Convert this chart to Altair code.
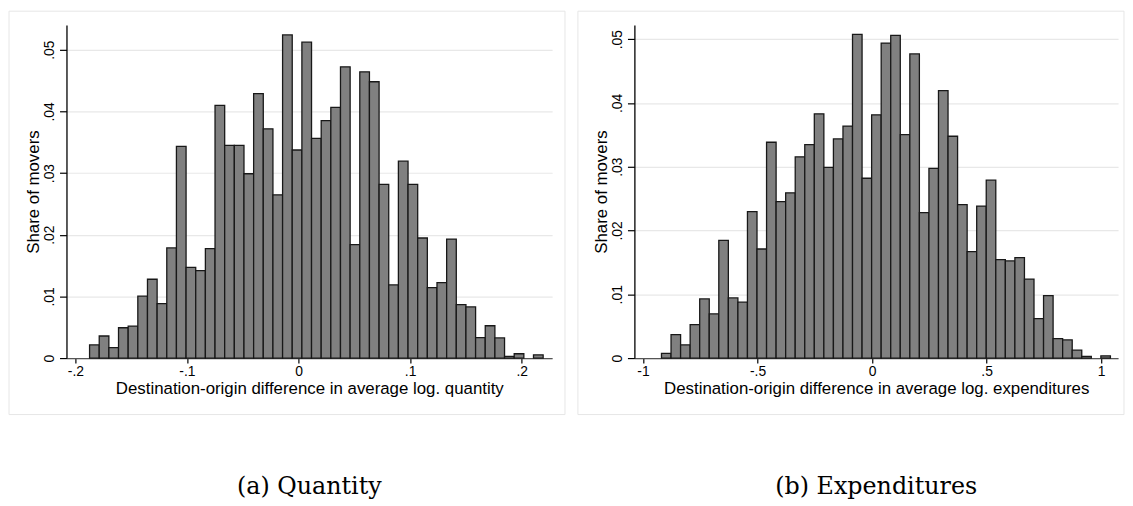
import numpy as np
import pandas as pd
import altair as alt

# (a) destination-origin difference in average log. quantity, 47 bins
qty_start = -0.1873
qty_width = 0.00865
qty_share = [0.00214, 0.00358, 0.00171, 0.00492, 0.00519, 0.01005, 0.01278, 0.00882,
             0.01786, 0.03433, 0.01471, 0.01417, 0.01775, 0.04096, 0.03449, 0.03449,
             0.02989, 0.04289, 0.03717, 0.02647, 0.05240, 0.03374, 0.05123, 0.03561,
             0.03850, 0.04064, 0.04722, 0.01840, 0.04642, 0.04481, 0.02818, 0.01187,
             0.03193, 0.02818, 0.01947, 0.01144, 0.01225, 0.01930, 0.00866, 0.00829,
             0.00332, 0.00524, 0.00326, 0.00027, 0.00070, 0.0, 0.00053]
qty_ticks = [-0.2, -0.1, 0, 0.1, 0.2]

# (b) destination-origin difference in average log. expenditures, 47 bins
exp_start = -0.9193
exp_width = 0.0417
exp_share = [0.00073, 0.00368, 0.00207, 0.00523, 0.00927, 0.00694, 0.01845, 0.00943,
             0.00876, 0.02295, 0.01710, 0.03383, 0.02451, 0.02591, 0.03155, 0.03347,
             0.03829, 0.02990, 0.03435, 0.03637, 0.05073, 0.02819, 0.03813, 0.04938,
             0.05057, 0.03503, 0.04767, 0.02280, 0.02974, 0.04192, 0.03477, 0.02404,
             0.01668, 0.02383, 0.02788, 0.01544, 0.01523, 0.01575, 0.01238, 0.00617,
             0.00979, 0.00306, 0.00285, 0.00124, 0.00026, 0.0, 0.00036]
exp_ticks = [-1, -0.5, 0, 0.5, 1]

y_ticks = [0, 0.01, 0.02, 0.03, 0.04, 0.05]

# stata-style labels: ".05", "-.1", "0" (plain hyphen instead of d3's minus sign)
stata_fmt = ("datum.value == 0 ? '0' : "
             "replace(replace(format(datum.value, '.2~f'), '0.', '.'), '\u2212', '-')")

PLOT_H = 336


def hist_panel(start, width, share, x_domain, x_ticks, y_max, x_title, caption, plot_w, frame_x):
    lo = start + width * np.arange(len(share))
    df = pd.DataFrame({'lo': lo, 'hi': lo + width, 'share': share})

    # light gray graph-region border, drawn around axes and titles
    frame = alt.Chart(pd.DataFrame({'frame': [0]})).mark_rect(
        fillOpacity=0, stroke='#e6e6e6', strokeWidth=1
    ).encode(
        x=alt.value(frame_x[0]), x2=alt.value(frame_x[1]),
        y=alt.value(-14), y2=alt.value(393)
    )

    bars = alt.Chart(df).mark_rect(
        color='#808080', stroke='#181818', strokeWidth=1.3
    ).encode(
        x=alt.X('lo:Q', scale=alt.Scale(domain=x_domain, nice=False, zero=False),
                axis=alt.Axis(values=x_ticks, labelExpr=stata_fmt, title=x_title,
                              grid=False, tickSize=5, labelPadding=2, labelFlush=False,
                              domainColor='#555555', domainWidth=1.2,
                              titleY=31, titleBaseline='middle')),
        x2='hi:Q',
        y=alt.Y('share:Q', scale=alt.Scale(domain=[0, y_max], nice=False),
                axis=alt.Axis(values=y_ticks, labelExpr=stata_fmt, title='Share of movers',
                              grid=True, gridColor='#e8e8e8', gridWidth=1.2,
                              tickSize=7, labelPadding=3, labelAngle=270,
                              labelAlign='center', labelBaseline='bottom',
                              domainColor='black', domainWidth=1.3,
                              titleAngle=270, titleX=-33, titleY=PLOT_H / 2,
                              titleAlign='center', titleBaseline='middle')),
        y2=alt.datum(0)
    ).transform_filter(alt.datum.share > 0)

    return alt.layer(frame, bars).properties(
        width=plot_w, height=PLOT_H,
        title=alt.Title(caption, orient='bottom', anchor='middle', offset=80,
                        baseline='alphabetic', font='DejaVu Serif', fontSize=24,
                        fontWeight='normal', color='black')
    )


left = hist_panel(qty_start, qty_width, qty_share, [-0.208, 0.2273], qty_ticks, 0.054,
                  'Destination-origin difference in average log. quantity',
                  '(a) Quantity', 490, (-58, 503))
right = hist_panel(exp_start, exp_width, exp_share, [-1.0376, 1.074], exp_ticks, 0.0522,
                   'Destination-origin difference in average log. expenditures',
                   '(b) Expenditures', 488, (-57, 494))

chart = alt.hconcat(left, right, spacing=11).properties(
    padding=0
).configure_view(
    strokeWidth=0
).configure_axis(
    labelFont='Liberation Sans', titleFont='Liberation Sans',
    labelFontSize=14, titleFontSize=17, titleFontWeight='normal',
    labelColor='black', titleColor='black', tickColor='black', tickWidth=1.2
)

chart.save("out.html", embed_options={"renderer": "svg", "actions": False})
